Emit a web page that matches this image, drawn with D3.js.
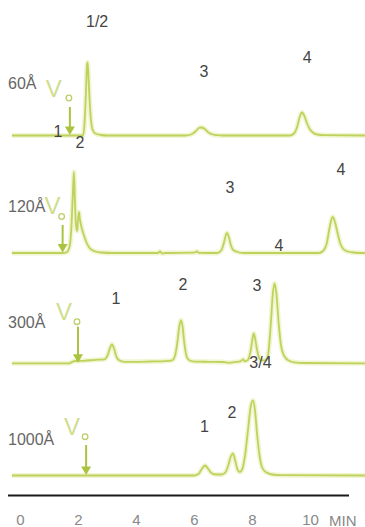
<!DOCTYPE html>
<html>
<head>
<meta charset="utf-8">
<script src="https://cdn.jsdelivr.net/npm/d3@7"></script>
<style>
  html, body { margin: 0; padding: 0; background: #fff; }
  svg { display: block; }
</style>
</head>
<body>
<svg id="chart" width="365" height="527"></svg>
<script>
// ---------------- DATA ----------------
const panelNames = ["60Å", "120Å", "300Å", "1000Å"];
const tickValues = [0, 2, 4, 6, 8, 10];
const tickLabels = ["0", "2", "4", "6", "8", "10"];
const unitLabel = "MIN";
const voidLabel = "V";
// void volume (Vo) elution times per column, minutes
const voidTimes = [1.72, 1.47, 2.0, 2.28];

// traces: [time (min), signal]
const trace60 = [
  [-0.28, 0], [1.0, 0], [2.17, 0], [2.22, 10], [2.27, 40], [2.31, 70], [2.33, 73],
  [2.36, 60], [2.40, 35], [2.45, 15], [2.50, 6], [2.60, 2], [2.80, 0.5], [3.0, 0],
  [5.7, 0], [5.9, 1], [6.05, 4], [6.17, 7.5], [6.25, 8], [6.35, 7], [6.5, 3],
  [6.65, 1], [6.8, 0.3], [7.0, 0], [9.3, 0], [9.45, 2], [9.55, 8], [9.63, 17],
  [9.72, 23], [9.8, 20], [9.9, 12], [10.0, 6], [10.1, 3], [10.25, 1], [10.5, 0.3], [11.9, 0]
];
const trace120 = [
  [-0.28, 0], [1.5, 0], [1.62, 1], [1.72, 8], [1.78, 30], [1.83, 65], [1.86, 81],
  [1.89, 55], [1.93, 28], [1.97, 22], [2.0, 33], [2.03, 41], [2.07, 33], [2.12, 26],
  [2.2, 18], [2.3, 10], [2.4, 5], [2.55, 2], [2.8, 0.5], [3.2, 0], [4.75, 0],
  [4.83, 1.5], [4.9, -0.5], [5.0, 0], [6.0, 0.3], [6.1, 1.5], [6.17, 0.2],
  [6.8, 0], [6.95, 3], [7.03, 10], [7.1, 18], [7.14, 20], [7.2, 16], [7.27, 8],
  [7.35, 3], [7.5, 1], [7.7, 0], [10.3, 0], [10.45, 2], [10.58, 10], [10.68, 26],
  [10.78, 36], [10.85, 32], [10.95, 20], [11.05, 9], [11.15, 4], [11.3, 1.5],
  [11.5, 0.5], [11.9, 0]
];
const trace300 = [
  [-0.28, 0], [1.7, 0], [1.8, 1.5], [1.9, 2.3], [2.2, 2.5], [2.6, 3.5], [2.9, 4],
  [3.02, 8], [3.1, 15], [3.17, 19], [3.24, 15], [3.32, 7], [3.42, 3], [3.6, 1.5],
  [4.0, 1.5], [4.5, 1.8], [5.0, 2.2], [5.25, 3], [5.35, 8], [5.43, 22], [5.5, 38],
  [5.55, 43], [5.6, 38], [5.66, 22], [5.72, 10], [5.8, 4], [5.95, 2], [6.5, 1.5],
  [7.0, 1.3], [7.2, 0.5], [7.4, 1.2], [7.6, 2], [7.7, 4], [7.75, 2], [7.85, 3],
  [7.95, 12], [8.02, 25], [8.06, 30], [8.1, 26], [8.17, 14], [8.25, 5], [8.32, 3],
  [8.45, 3], [8.55, 8], [8.65, 40], [8.72, 70], [8.78, 80], [8.84, 70], [8.92, 40],
  [9.0, 18], [9.1, 8], [9.25, 3], [9.45, 1], [9.8, 0.3], [11.9, 0]
];
const trace1000 = [
  [-0.28, 0], [6.0, 0], [6.15, 1.5], [6.28, 7], [6.38, 10], [6.48, 7], [6.6, 2.5],
  [6.75, 1], [6.95, 1], [7.08, 3], [7.18, 10], [7.27, 19], [7.34, 22], [7.42, 15],
  [7.5, 6], [7.58, 3.5], [7.66, 6], [7.76, 20], [7.86, 45], [7.95, 68], [8.03, 75],
  [8.1, 66], [8.18, 40], [8.26, 20], [8.35, 8], [8.5, 3], [8.7, 1], [9.0, 0.3], [11.9, 0]
];
const traces = [trace60, trace120, trace300, trace1000];

// peak labels: text, time (min), signal level
const peaks60 = [
  { text: "1/2", t: 2.66, v: 108.5 }, { text: "1", t: 1.31, v: -1 },
  { text: "2", t: 2.07, v: -12.5 }, { text: "3", t: 6.34, v: 58.5 },
  { text: "4", t: 9.9, v: 72.5 }
];
const peaks120 = [
  { text: "3", t: 7.24, v: 60.3 }, { text: "4", t: 11.07, v: 78 },
  { text: "4", t: 8.93, v: 2 }
];
const peaks300 = [
  { text: "1", t: 3.31, v: 59.6 }, { text: "2", t: 5.62, v: 73.3 },
  { text: "3", t: 8.17, v: 72.3 }, { text: "3/4", t: 8.29, v: -4.7 }
];
const peaks1000 = [
  { text: "1", t: 6.36, v: 43.8 }, { text: "2", t: 7.31, v: 57.5 }
];
const peakLabels = [peaks60, peaks120, peaks300, peaks1000];

// ---------------- LAYOUT ----------------
const panelBase = [135.5, 253, 363.3, 475.5];
const panelLabelRise = [46.2, 41.3, 35, 30.5];
const voRise = [
  { v: 39, c: 37.5, a: 28.5, gap: 8 },
  { v: 39, c: 36.5, a: 28, gap: 2 },
  { v: 43, c: 41.6, a: 36.5, gap: 6 },
  { v: 40.5, c: 38.8, a: 30.5, gap: 6 }
];
const font = "'Liberation Sans', Arial, Helvetica, sans-serif";

const svg = d3.select("#chart");
const x = d3.scaleLinear().domain([0, 10]).range([20, 310]);

traces.forEach((tr, i) => {
  const base = panelBase[i];
  const y = d3.scaleLinear().domain([0, 100]).range([base, base - 100]);
  const g = svg.append("g");
  const line = d3.line().x(d => x(d[0])).y(d => y(d[1])).curve(d3.curveMonotoneX);

  g.append("path").datum(tr).attr("d", line)
    .attr("fill", "none").attr("stroke", "#eef3c6").attr("stroke-width", 5)
    .attr("stroke-opacity", 0.8).attr("stroke-linejoin", "round");
  g.append("path").datum(tr).attr("d", line)
    .attr("fill", "none").attr("stroke", "#c0d25e").attr("stroke-width", 1.8)
    .attr("stroke-linejoin", "round");

  // Vo marker (drawn before the panel label so the label sits on top)
  const vx = x(voidTimes[i]);
  const r = voRise[i];
  g.append("text").attr("x", vx - r.gap).attr("y", y(r.v)).attr("text-anchor", "end")
    .attr("font-family", font).attr("font-size", 24).attr("fill", "#cfde8e")
    .text(voidLabel);
  g.append("circle").attr("cx", vx - 1).attr("cy", y(r.c)).attr("r", 2.8)
    .attr("fill", "none").attr("stroke", "#bccf68").attr("stroke-width", 1.3);
  g.append("line").attr("x1", vx).attr("x2", vx)
    .attr("y1", y(r.a)).attr("y2", y(6))
    .attr("stroke", "#aac440").attr("stroke-width", 2);
  g.append("path")
    .attr("d", `M${vx - 5},${y(9)} L${vx + 5},${y(9)} L${vx},${y(0.5)} Z`)
    .attr("fill", "#aac440");

  // panel label
  g.append("text").attr("x", 8).attr("y", base - panelLabelRise[i])
    .attr("font-family", font).attr("font-size", 16).attr("fill", "#666")
    .text(panelNames[i]);

  // peak labels
  g.selectAll("text.peak").data(peakLabels[i]).join("text")
    .attr("class", "peak")
    .attr("x", d => x(d.t)).attr("y", d => y(d.v))
    .attr("text-anchor", "middle")
    .attr("font-family", font).attr("font-size", 16).attr("fill", "#444")
    .text(d => d.text);
});

// x axis
const axisY = 495.5;
svg.append("line").attr("x1", 8).attr("x2", 349).attr("y1", axisY).attr("y2", axisY)
  .attr("stroke", "#1a1a1a").attr("stroke-width", 1.8);

const axis = d3.axisBottom(x).tickValues(tickValues)
  .tickFormat((d, i) => tickLabels[i]).tickSize(0).tickPadding(0);
const ag = svg.append("g").attr("transform", `translate(0,${axisY + 19})`).call(axis);
ag.select(".domain").remove();
ag.selectAll("text").attr("font-family", font).attr("font-size", 15)
  .attr("fill", "#888");

svg.append("text").attr("x", x(10) + 19).attr("y", 525.5)
  .attr("font-family", font).attr("font-size", 15).attr("fill", "#888")
  .text(unitLabel);
</script>
</body>
</html>
